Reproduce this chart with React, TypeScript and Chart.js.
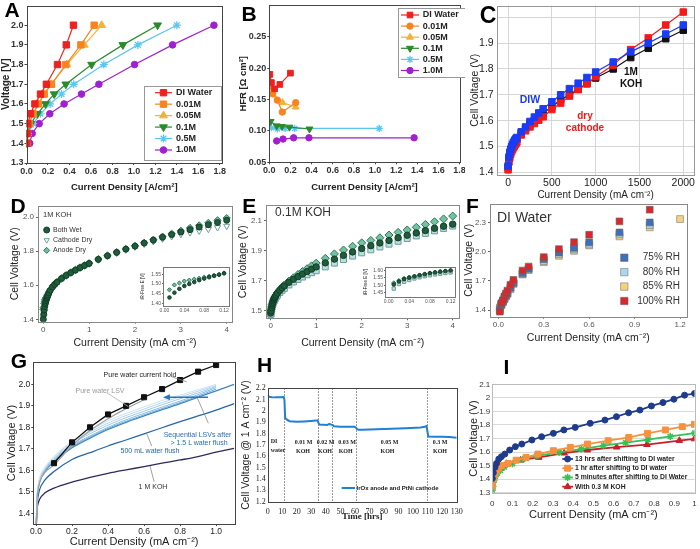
import React, { useEffect, useRef } from 'react';
import { Chart, registerables } from 'chart.js';
import { drawPoint } from 'chart.js/helpers';

Chart.register(...registerables);

const SANS = "'Liberation Sans', Arial, Helvetica, sans-serif";
const SERIF = "'Liberation Serif', 'Times New Roman', serif";

// ---------------- Panel A ----------------
const A_V = [1.4, 1.45, 1.5, 1.55, 1.6, 1.65, 1.7, 1.8, 1.9, 2.0];
const A_DI = [0.002, 0.005, 0.012, 0.037, 0.078, 0.13, 0.185, 0.288, 0.37, 0.437];
const A_001 = [0.003, 0.008, 0.025, 0.062, 0.11, 0.165, 0.233, 0.366, 0.506, 0.63];
const A_005 = [0.003, 0.009, 0.027, 0.06, 0.112, 0.162, 0.228, 0.375, 0.537, 0.7];
const A_01 = [0.004, 0.01, 0.04, 0.102, 0.177, 0.258, 0.366, 0.606, 0.897, 1.22];
const A_05 = [0.006, 0.015, 0.062, 0.13, 0.22, 0.326, 0.44, 0.72, 1.037, 1.4];
const A_1 = [0.03, 0.053, 0.118, 0.217, 0.35, 0.512, 0.674, 1.006, 1.36, 1.745];
const A_XT = [0, 0.2, 0.4, 0.6, 0.8, 1.0, 1.2, 1.4, 1.6, 1.8];
const A_YT = [1.3, 1.4, 1.5, 1.6, 1.7, 1.8, 1.9, 2.0];
const CONC = ['DI Water', '0.01M', '0.05M', '0.1M', '0.5M', '1.0M'];

// ---------------- Panel B ----------------
const B_DI_X = [0.005, 0.02, 0.05, 0.1, 0.2];
const B_DI_Y = [0.19, 0.177, 0.167, 0.174, 0.192];
const B_001_X = [0.008, 0.032, 0.076, 0.123, 0.25];
const B_001_Y = [0.171, 0.159, 0.149, 0.13, 0.145];
const B_005_X = [0.006, 0.03, 0.126, 0.25];
const B_005_Y = [0.169, 0.16, 0.145, 0.138];
const B_01_X = [0.012, 0.07, 0.12, 0.19, 0.38];
const B_01_Y = [0.115, 0.108, 0.107, 0.106, 0.103];
const B_05_X = [0.02, 0.076, 0.15, 0.24, 1.04];
const B_05_Y = [0.105, 0.103, 0.104, 0.104, 0.104];
const B_1_X = [0.07, 0.13, 0.23, 0.375, 1.37];
const B_1_Y = [0.084, 0.087, 0.089, 0.089, 0.089];
const B_YT = [0.05, 0.1, 0.15, 0.2, 0.25];

// ---------------- Panel C ----------------
const C_X = [0, 10, 20, 30, 40, 50, 60, 70, 80, 90, 100, 150, 200, 250, 300, 350, 400, 500, 600, 700, 800, 900, 1000, 1200, 1400, 1600, 1800, 2000];
const C_DIW = [1.425, 1.46, 1.478, 1.49, 1.5, 1.508, 1.515, 1.521, 1.526, 1.531, 1.535, 1.557, 1.576, 1.597, 1.614, 1.63, 1.646, 1.673, 1.7, 1.724, 1.745, 1.767, 1.788, 1.827, 1.866, 1.9, 1.935, 1.97];
const C_DRY = [1.41, 1.44, 1.458, 1.47, 1.48, 1.488, 1.495, 1.501, 1.507, 1.512, 1.517, 1.545, 1.561, 1.576, 1.589, 1.602, 1.615, 1.643, 1.668, 1.695, 1.72, 1.742, 1.77, 1.815, 1.875, 1.92, 1.97, 2.02];
const C_KOH = [1.42, 1.452, 1.47, 1.482, 1.492, 1.5, 1.507, 1.513, 1.518, 1.523, 1.528, 1.552, 1.57, 1.587, 1.602, 1.616, 1.628, 1.655, 1.68, 1.7, 1.722, 1.745, 1.765, 1.8, 1.844, 1.88, 1.917, 1.95];
const C_XT = [0, 500, 1000, 1500, 2000];
const C_YT = [1.4, 1.5, 1.6, 1.7, 1.8, 1.9, 2.0];

// ---------------- Panel D ----------------
const DE_X = [0, 0.01, 0.02, 0.03, 0.04, 0.05, 0.06, 0.07, 0.08, 0.09, 0.1, 0.12, 0.15, 0.2, 0.25, 0.3, 0.4, 0.5, 0.6, 0.7, 0.8, 0.9, 1.0, 1.2, 1.4, 1.6, 1.8, 2.0, 2.2, 2.4, 2.6, 2.8, 3.0, 3.2, 3.4, 3.6, 3.8, 4.0];
const D_WET = [1.4, 1.43, 1.455, 1.475, 1.49, 1.5, 1.51, 1.52, 1.528, 1.535, 1.542, 1.555, 1.57, 1.59, 1.605, 1.618, 1.64, 1.658, 1.674, 1.689, 1.703, 1.716, 1.728, 1.752, 1.773, 1.793, 1.812, 1.83, 1.848, 1.865, 1.882, 1.898, 1.913, 1.927, 1.942, 1.956, 1.969, 1.982];
const D_CATH = [1.41, 1.44, 1.46, 1.478, 1.49, 1.5, 1.508, 1.517, 1.525, 1.533, 1.54, 1.553, 1.568, 1.588, 1.603, 1.616, 1.638, 1.656, 1.672, 1.687, 1.701, 1.714, 1.726, 1.75, 1.771, 1.79, 1.809, 1.826, 1.843, 1.858, 1.873, 1.887, 1.9, 1.91, 1.92, 1.93, 1.94, 1.948];
const D_ANODE = [1.46, 1.47, 1.495, 1.505, 1.515, 1.52, 1.525, 1.53, 1.535, 1.54, 1.545, 1.557, 1.572, 1.592, 1.607, 1.62, 1.642, 1.66, 1.676, 1.691, 1.705, 1.718, 1.73, 1.754, 1.775, 1.795, 1.814, 1.832, 1.85, 1.868, 1.886, 1.903, 1.92, 1.937, 1.952, 1.967, 1.982, 1.995];
const DI_X = [0.01, 0.02, 0.03, 0.04, 0.05, 0.06, 0.07, 0.08, 0.09, 0.1, 0.11, 0.12];
const DI_WET = [1.43, 1.455, 1.475, 1.49, 1.5, 1.51, 1.52, 1.528, 1.535, 1.542, 1.548, 1.555];
const DI_ANODE = [1.47, 1.495, 1.505, 1.515, 1.52, 1.525, 1.53, 1.535, 1.54, 1.545, 1.55, 1.557];
const DE_XT = [0, 1, 2, 3, 4];
const D_YT = [1.4, 1.6, 1.8, 2.0];
const INSET_XT = [0, 0.04, 0.08, 0.12];
const DI_YT = [1.4, 1.45, 1.5, 1.55];
const WET_LABELS = ['Both Wet', 'Cathode Dry', 'Anode Dry'];

// ---------------- Panel E ----------------
const E_WET = [1.485, 1.5, 1.52, 1.535, 1.547, 1.557, 1.566, 1.574, 1.581, 1.588, 1.594, 1.605, 1.618, 1.636, 1.652, 1.666, 1.69, 1.71, 1.728, 1.745, 1.762, 1.778, 1.793, 1.82, 1.845, 1.87, 1.893, 1.916, 1.935, 1.953, 1.97, 1.988, 2.005, 2.02, 2.036, 2.051, 2.065, 2.079];
const E_CATH = [1.475, 1.48, 1.51, 1.525, 1.537, 1.547, 1.556, 1.563, 1.57, 1.576, 1.581, 1.591, 1.604, 1.621, 1.636, 1.649, 1.672, 1.692, 1.709, 1.725, 1.74, 1.754, 1.767, 1.793, 1.818, 1.842, 1.865, 1.887, 1.907, 1.926, 1.945, 1.964, 1.983, 2.0, 2.017, 2.034, 2.05, 2.066];
const E_ANODE = [1.495, 1.51, 1.525, 1.54, 1.55, 1.559, 1.567, 1.575, 1.582, 1.588, 1.594, 1.604, 1.62, 1.64, 1.657, 1.672, 1.698, 1.72, 1.742, 1.762, 1.781, 1.8, 1.818, 1.85, 1.88, 1.906, 1.931, 1.954, 1.97, 1.988, 2.006, 2.024, 2.04, 2.058, 2.077, 2.095, 2.114, 2.133];
const EI_WET = [1.505, 1.525, 1.54, 1.55, 1.558, 1.566, 1.573, 1.58, 1.585, 1.59, 1.594, 1.598];
const EI_CATH = [1.478, 1.508, 1.523, 1.535, 1.545, 1.553, 1.56, 1.566, 1.572, 1.577, 1.581, 1.585];
const EI_ANODE = [1.515, 1.53, 1.545, 1.553, 1.56, 1.567, 1.574, 1.58, 1.585, 1.589, 1.593, 1.597];
const E_YT = [1.5, 1.7, 1.9, 2.1];
const EI_YT = [1.45, 1.5, 1.55, 1.6];

// ---------------- Panel F ----------------
const F_X = [0.01, 0.02, 0.03, 0.04, 0.05, 0.06, 0.08, 0.1, 0.16, 0.2, 0.3, 0.4, 0.5, 0.6, 0.8, 1.0];
const F_X85 = [0.01, 0.02, 0.03, 0.04, 0.05, 0.06, 0.08, 0.1, 0.16, 0.2, 0.3, 0.4, 0.5, 0.6, 0.8, 1.0, 1.2];
const F_75 = [1.4, 1.46, 1.49, 1.52, 1.55, 1.575, 1.63, 1.68, 1.78, 1.825, 1.924, 1.993, 2.041, 2.097, 2.2, 2.303];
const F_80 = [1.41, 1.455, 1.485, 1.515, 1.545, 1.57, 1.625, 1.675, 1.77, 1.815, 1.905, 1.975, 2.025, 2.075, 2.18, 2.276];
const F_85 = [1.427, 1.45, 1.48, 1.51, 1.54, 1.565, 1.615, 1.669, 1.766, 1.814, 1.893, 1.959, 2.01, 2.066, 2.159, 2.252, 2.338];
const F_100 = [1.383, 1.47, 1.5, 1.54, 1.57, 1.6, 1.66, 1.71, 1.807, 1.848, 1.945, 2.028, 2.1, 2.176, 2.314, 2.434];
const F_XT = [0, 0.3, 0.6, 0.9, 1.2];
const F_YT = [1.4, 1.7, 2.0, 2.3];
const RH_LABELS = ['75% RH', '80% RH', '85% RH', '100% RH'];

// ---------------- Panel G ----------------
const G_X = [0.002, 0.005, 0.01, 0.02, 0.05, 0.1, 0.2, 0.3, 0.4, 0.5, 0.6, 0.7, 0.8, 0.9, 1.0, 1.1];
const G_XS = [0.002, 0.005, 0.01, 0.02, 0.05, 0.1, 0.2, 0.3, 0.4, 0.5, 0.6, 0.7, 0.8, 0.9, 1.0];
const G_KOH = [1.35, 1.41, 1.44, 1.465, 1.495, 1.517, 1.545, 1.567, 1.586, 1.602, 1.617, 1.633, 1.648, 1.664, 1.684, 1.702];
const G_500 = [1.35, 1.43, 1.47, 1.51, 1.555, 1.594, 1.65, 1.682, 1.713, 1.741, 1.77, 1.798, 1.826, 1.853, 1.88, 1.91];
const G_SEQ0 = [1.35, 1.45, 1.5, 1.545, 1.595, 1.64, 1.705, 1.75, 1.79, 1.823, 1.853, 1.882, 1.91, 1.94, 1.97, 2.0];
const G_SEQ1 = [1.35, 1.47, 1.52, 1.565, 1.615, 1.665, 1.735, 1.785, 1.83, 1.865, 1.895, 1.925, 1.95, 1.975, 2.0];
const G_SEQ2 = [1.35, 1.465, 1.515, 1.56, 1.61, 1.66, 1.73, 1.778, 1.82, 1.855, 1.885, 1.915, 1.942, 1.968, 1.995];
const G_SEQ3 = [1.35, 1.46, 1.51, 1.555, 1.605, 1.655, 1.722, 1.77, 1.81, 1.845, 1.875, 1.905, 1.933, 1.96, 1.99];
const G_SEQ4 = [1.35, 1.455, 1.505, 1.55, 1.6, 1.65, 1.715, 1.76, 1.8, 1.835, 1.865, 1.894, 1.922, 1.952, 1.985];
const G_SEQ5 = [1.35, 1.45, 1.5, 1.545, 1.597, 1.645, 1.71, 1.755, 1.795, 1.828, 1.858, 1.887, 1.915, 1.945, 1.978];
const G_LSV_X = [0.002, 0.005, 0.01, 0.02, 0.05, 0.1, 0.2, 0.3, 0.4, 0.5, 0.6];
const G_LSV = [1.35, 1.45, 1.5, 1.545, 1.59, 1.625, 1.715, 1.785, 1.84, 1.887, 1.928];
const G_HOLD_X = [0.1, 0.2, 0.3, 0.4, 0.5, 0.6, 0.7, 0.8, 0.9, 1.0];
const G_HOLD = [1.633, 1.73, 1.8, 1.86, 1.9, 1.94, 1.978, 2.02, 2.059, 2.09];
const G_XT = [0, 0.2, 0.4, 0.6, 0.8, 1.0];
const G_YT = [1.4, 1.5, 1.6, 1.7, 1.8, 1.9, 2.0];
const G_ARROW = [0.955, 1.94, 0.705, 1.94];
const G_LEADERS = [
  [0.754, 2.035, 0.837, 2.012],
  [0.393, 1.961, 0.513, 1.896],
  [0.957, 1.819, 0.893, 1.942],
  [0.643, 1.713, 0.615, 1.769],
  [0.656, 1.547, 0.633, 1.62],
];

// ---------------- Panel H ----------------
const H_T = [0, 1, 3, 5, 8, 11, 11.5, 12, 13, 15, 20, 25, 30, 33, 34.3, 34.8, 35.5, 38, 41, 42, 43, 44, 44.8, 45.5, 50, 55, 59.8, 60.5, 61.5, 62.5, 65, 75, 85, 95, 105, 108, 109.2, 109.7, 110.5, 115, 120, 125, 130];
const H_V = [2.14, 2.125, 2.122, 2.12, 2.12, 2.122, 2.1, 1.94, 1.925, 1.91, 1.905, 1.908, 1.912, 1.915, 1.918, 1.9, 1.88, 1.878, 1.876, 1.885, 1.884, 1.878, 1.875, 1.865, 1.862, 1.86, 1.86, 1.855, 1.84, 1.835, 1.835, 1.838, 1.843, 1.848, 1.855, 1.86, 1.868, 1.83, 1.775, 1.773, 1.772, 1.77, 1.765];
const H_SWITCH = [11.5, 34.5, 44.5, 60.5, 109.5];
const H_XT = [0, 10, 20, 30, 40, 50, 60, 70, 80, 90, 100, 110, 120, 130];
const H_YT = [1.2, 1.3, 1.4, 1.5, 1.6, 1.7, 1.8, 1.9, 2.0, 2.1, 2.2];

// ---------------- Panel I ----------------
const I_13_X = [0, 0.005, 0.013, 0.021, 0.032, 0.045, 0.062, 0.086, 0.114, 0.146, 0.196, 0.244, 0.302, 0.354, 0.41, 0.484, 0.557, 0.614, 0.674, 0.73, 0.787, 0.844, 0.898, 0.951, 1.0];
const I_13_Y = [1.405, 1.447, 1.487, 1.516, 1.548, 1.566, 1.585, 1.615, 1.64, 1.659, 1.689, 1.713, 1.738, 1.763, 1.782, 1.812, 1.836, 1.861, 1.89, 1.91, 1.94, 1.965, 1.99, 2.02, 2.032];
const I_1_X = [0, 0.005, 0.01, 0.02, 0.03, 0.045, 0.078, 0.118, 0.167, 0.226, 0.302, 0.386, 0.471, 0.573, 0.675, 0.768, 0.856, 0.94, 1.0];
const I_1_Y = [1.35, 1.4, 1.43, 1.46, 1.48, 1.5, 1.515, 1.54, 1.56, 1.585, 1.61, 1.634, 1.659, 1.684, 1.708, 1.738, 1.763, 1.787, 1.805];
const I_5_X = [0, 0.003, 0.008, 0.015, 0.025, 0.04, 0.06, 0.1, 0.15, 0.22, 0.33, 0.44, 0.55, 0.66, 0.77, 0.88, 1.0];
const I_5_Y = [1.32, 1.345, 1.39, 1.42, 1.445, 1.465, 1.49, 1.515, 1.545, 1.572, 1.598, 1.622, 1.648, 1.67, 1.692, 1.715, 1.74];
const I_K_X = [0, 0.003, 0.008, 0.015, 0.025, 0.04, 0.07, 0.14, 0.23, 0.355, 0.47, 0.615, 0.765, 0.925, 1.0];
const I_K_Y = [1.37, 1.39, 1.42, 1.445, 1.465, 1.485, 1.515, 1.54, 1.56, 1.592, 1.615, 1.636, 1.655, 1.685, 1.697];
const I_XT = [0, 0.1, 0.2, 0.3, 0.4, 0.5, 0.6, 0.7, 0.8, 0.9, 1.0];
const I_YT = [1.3, 1.4, 1.5, 1.6, 1.7, 1.8, 1.9, 2.0, 2.1];
const I_LABELS = ['13 hrs after shifting to DI water', '1 hr after shifting to DI water', '5 minutes after shifting to DI Water', 'With 0.3 M KOH'];

// ---------------- helpers ----------------
type Box = { left: number; top: number; w: number; h: number };
type Area = { l: number; t: number; r: number; b: number };

const F = (size: number, weight: string = 'normal', family: string = SANS) => ({ size, weight, family, lineHeight: 1.2 });
const f0 = (v: number) => String(v);
const f1 = (v: number) => v.toFixed(1);
const f2 = (v: number) => v.toFixed(2);
const fg = (v: number) => String(Math.round(v * 10) / 10);

function ax(o: any) {
  const horiz = o.pos === 'bottom';
  return {
    type: 'linear',
    position: o.pos,
    min: o.min,
    max: o.max,
    afterBuildTicks: (s: any) => {
      s.ticks = o.ticks.map((v: number) => ({ value: v }));
    },
    afterFit: (s: any) => {
      if (horiz) s.height = o.size;
      else s.width = o.size;
      s.paddingLeft = 0;
      s.paddingRight = 0;
      s.paddingTop = 0;
      s.paddingBottom = 0;
    },
    ticks: {
      font: o.font,
      color: o.color || '#222',
      padding: o.pad ?? 2,
      autoSkip: false,
      maxRotation: 0,
      minRotation: 0,
      callback: (v: any) => o.fmt(Number(v)),
    },
    grid: {
      drawOnChartArea: !!o.grid,
      color: o.grid || 'rgba(0,0,0,0)',
      drawTicks: !!o.tl,
      tickLength: o.tl || 0,
      tickColor: o.tc || '#444',
      lineWidth: 1,
    },
    border: { display: false },
    title: o.title
      ? { display: true, text: o.title, font: o.tf, color: o.tcol || '#222', padding: { top: o.tp || 0, bottom: o.tp || 0 } }
      : { display: false },
  };
}

function ser(label: string, xs: number[], ys: number[], st: any) {
  return {
    label,
    data: xs.map((x, i) => ({ x, y: ys[i] })),
    borderColor: st.c,
    borderWidth: st.lw ?? 1.2,
    showLine: st.line ?? true,
    pointStyle: st.ps ?? 'circle',
    pointRadius: st.r ?? 3,
    pointRotation: st.rot ?? 0,
    pointBackgroundColor: st.f ?? st.c,
    pointBorderColor: st.b ?? st.c,
    pointBorderWidth: st.bw ?? 1,
    tension: 0,
    cubicInterpolationMode: st.mono ? 'monotone' : 'default',
    fill: false,
    order: st.order ?? 0,
    noLegend: !!st.noLegend,
  };
}

function frameP(color: string, width = 1) {
  return {
    id: 'frame',
    afterDatasetsDraw(chart: any) {
      const { left, top, right, bottom } = chart.chartArea;
      const ctx = chart.ctx as CanvasRenderingContext2D;
      ctx.save();
      ctx.strokeStyle = color;
      ctx.lineWidth = width;
      ctx.setLineDash([]);
      const l = Math.round(left) + 0.5;
      const t = Math.round(top) + 0.5;
      ctx.strokeRect(l, t, Math.round(right) - Math.round(left), Math.round(bottom) - Math.round(top));
      ctx.restore();
    },
  };
}

function legendP(box: Box, o: any) {
  return {
    id: 'boxLegend',
    afterDatasetsDraw(chart: any) {
      const ctx = chart.ctx as CanvasRenderingContext2D;
      const ox = box.left;
      const oy = box.top;
      ctx.save();
      if (o.box) {
        const [l, t, r, b] = o.box;
        ctx.fillStyle = '#fff';
        ctx.fillRect(l - ox, t - oy, r - l, b - t);
        ctx.strokeStyle = o.boxColor || '#888';
        ctx.lineWidth = 1;
        ctx.strokeRect(Math.round(l - ox) + 0.5, Math.round(t - oy) + 0.5, Math.round(r - l), Math.round(b - t));
      }
      const sets = chart.data.datasets.filter((d: any) => !d.noLegend);
      sets.forEach((d: any, i: number) => {
        const y = o.y0 + i * (o.dy || 0) - oy;
        if (o.line) {
          ctx.strokeStyle = d.borderColor;
          ctx.lineWidth = d.borderWidth;
          ctx.beginPath();
          ctx.moveTo(o.line[0] - ox, y);
          ctx.lineTo(o.line[1] - ox, y);
          ctx.stroke();
        }
        if (o.markerX != null && d.pointRadius > 0) {
          ctx.fillStyle = d.pointBackgroundColor;
          ctx.strokeStyle = d.pointBorderColor;
          ctx.lineWidth = d.pointBorderWidth;
          drawPoint(ctx, { pointStyle: d.pointStyle, rotation: d.pointRotation || 0, radius: o.r ?? d.pointRadius, borderWidth: d.pointBorderWidth } as any, o.markerX - ox, y);
        }
        ctx.fillStyle = o.color || '#222';
        ctx.font = o.font;
        ctx.textAlign = o.align || 'left';
        ctx.textBaseline = 'middle';
        ctx.fillText(d.label, o.textX - ox, y);
      });
      ctx.restore();
    },
  };
}

function mk(box: Box, area: Area, xo: any, yo: any, datasets: any[], plugins: any[]) {
  return {
    type: 'line',
    data: { datasets },
    plugins,
    options: {
      responsive: false,
      maintainAspectRatio: false,
      animation: false,
      devicePixelRatio: 1,
      events: [],
      layout: { padding: { left: 0, top: area.t - box.top, right: box.left + box.w - area.r, bottom: 0 } },
      plugins: { legend: { display: false }, tooltip: { enabled: false }, title: { display: false } },
      scales: {
        x: ax({ ...xo, pos: 'bottom', size: box.top + box.h - area.b }),
        y: ax({ ...yo, pos: 'left', size: area.l - box.left }),
      },
    },
  };
}

function ChartPanel({ box, make }: { box: Box; make: () => any }) {
  const ref = useRef<HTMLCanvasElement | null>(null);
  useEffect(() => {
    const chart = new Chart(ref.current as HTMLCanvasElement, make());
    return () => chart.destroy();
  }, []);
  return (
    <canvas
      ref={ref}
      width={box.w}
      height={box.h}
      style={{ position: 'absolute', left: box.left, top: box.top, width: box.w, height: box.h }}
    />
  );
}

function Txt({ x, y, size, weight = 'normal', color = '#222', family = SANS, align = 'c', children }: any) {
  const tx = align === 'c' ? '-50%' : align === 'r' ? '-100%' : '0';
  return (
    <div
      style={{
        position: 'absolute',
        left: x,
        top: y,
        transform: `translate(${tx},-50%)`,
        fontFamily: family,
        fontSize: size,
        fontWeight: weight as any,
        color,
        lineHeight: 1,
        whiteSpace: 'nowrap',
      }}
    >
      {children}
    </div>
  );
}

// ---------------- panel configs ----------------
const CC = { di: '#ee2020', c001: '#f7841e', c005: '#f2b23a', c01: '#2b8a2b', c05: '#5cc6f2', c1: '#a020d0' };

const boxA: Box = { left: 0, top: 0, w: 230, h: 197 };
function makeA() {
  const area = { l: 26.5, t: 4, r: 222, b: 163 };
  const ds = [
    ser(CONC[0], A_DI, A_V, { c: CC.di, ps: 'rect', r: 4.5 }),
    ser(CONC[1], A_001, A_V, { c: CC.c001, ps: 'rect', r: 4.5 }),
    ser(CONC[2], A_005, A_V, { c: CC.c005, ps: 'triangle', r: 4.5 }),
    ser(CONC[3], A_01, A_V, { c: CC.c01, ps: 'triangle', rot: 180, r: 4.5 }),
    ser(CONC[4], A_05, A_V, { c: CC.c05, ps: 'star', r: 4, bw: 1.3 }),
    ser(CONC[5], A_1, A_V, { c: CC.c1, ps: 'circle', r: 3.3 }),
  ];
  return mk(
    boxA,
    area,
    { min: 0, max: 1.82, ticks: A_XT, fmt: f1, font: F(9, 'bold'), color: '#333', tl: 2, pad: 1, title: 'Current Density [A/cm²]', tf: F(9.5, 'bold'), tp: 4 },
    { min: 1.3, max: 2.1, ticks: A_YT, fmt: f1, font: F(9, 'bold'), color: '#333', tl: 2, pad: 1, title: 'Voltage [V]', tf: F(10, 'bold'), tp: 0 },
    ds,
    [frameP('#444'), legendP(boxA, { box: [144, 86, 221, 160], boxColor: '#999', line: [155, 172], markerX: 163.5, textX: 176, y0: 92.7, dy: 11.46, font: `bold 9px ${SANS}`, color: '#222' })]
  );
}

const boxB: Box = { left: 230, top: 0, w: 235, h: 197 };
function makeB() {
  const area = { l: 269.3, t: 5, r: 459.6, b: 162.3 };
  const ds = [
    ser(CONC[0], B_DI_X, B_DI_Y, { c: CC.di, ps: 'rect', r: 4 }),
    ser(CONC[1], B_001_X, B_001_Y, { c: CC.c001, ps: 'circle', r: 3.2 }),
    ser(CONC[2], B_005_X, B_005_Y, { c: CC.c005, ps: 'triangle', r: 4 }),
    ser(CONC[3], B_01_X, B_01_Y, { c: CC.c01, ps: 'triangle', rot: 180, r: 4 }),
    ser(CONC[4], B_05_X, B_05_Y, { c: CC.c05, ps: 'star', r: 3.6, bw: 1.3 }),
    ser(CONC[5], B_1_X, B_1_Y, { c: CC.c1, ps: 'circle', r: 3.2 }),
  ];
  return mk(
    boxB,
    area,
    { min: 0, max: 1.8, ticks: A_XT, fmt: f1, font: F(9, 'bold'), color: '#333', tl: 2, pad: 1, title: 'Current Density [A/cm²]', tf: F(9.5, 'bold'), tp: 4 },
    { min: 0.05, max: 0.3, ticks: B_YT, fmt: f2, font: F(9, 'bold'), color: '#333', tl: 2, pad: 1, title: 'HFR [Ω cm²]', tf: F(9.5, 'bold'), tp: 8 },
    ds,
    [frameP('#444'), legendP(boxB, { box: [398, 8, 472, 77], boxColor: '#999', line: [401, 419], markerX: 410, textX: 422.7, y0: 15, dy: 11.1, font: `bold 9px ${SANS}`, color: '#222' })]
  );
}

const boxC: Box = { left: 465, top: 0, w: 235, h: 202 };
function makeC() {
  const area = { l: 496.7, t: 3, r: 698, b: 175 };
  const ds = [
    ser('DIW', C_X, C_DIW, { c: '#1a3cf5', ps: 'rect', r: 4.6, lw: 1.2 }),
    ser('dry cathode', C_X, C_DRY, { c: '#f51a1a', ps: 'rect', r: 4.6, lw: 1.2 }),
    ser('1M KOH', C_X, C_KOH, { c: '#111111', ps: 'rect', r: 4.6, lw: 1.2 }),
  ];
  return mk(
    boxC,
    area,
    { min: -130, max: 2127, ticks: C_XT, fmt: f0, font: F(10.5), color: '#222', pad: 2, grid: '#d6d6d6', title: 'Current Density (mA cm⁻²)', tf: F(10), tp: 1 },
    { min: 1.39, max: 2.045, ticks: C_YT, fmt: (v: number) => (v > 1.95 ? '' : f1(v)), font: F(10.5), color: '#222', pad: 3, grid: '#d6d6d6', title: 'Cell Voltage (V)', tf: F(10.5), tp: 3.7 },
    ds,
    [frameP('#999')]
  );
}

const D_STY = {
  wet: { ps: 'circle', r: 3, c: '#1e5c3a', f: '#1e5c3a', b: '#123d26', line: false },
  cath: { ps: 'triangle', rot: 180, r: 3.6, c: '#6f9f9c', f: 'rgba(0,0,0,0)', b: '#6f9f9c', line: false },
  anode: { ps: 'rectRot', r: 3.6, c: '#6cc19f', f: '#6cc19f', b: '#2f7458', line: false },
};

const boxD: Box = { left: 0, top: 195, w: 237, h: 160 };
function makeD() {
  const area = { l: 38, t: 206, r: 232, b: 321.7 };
  const ds = [
    ser(WET_LABELS[0], DE_X, D_WET, D_STY.wet),
    ser(WET_LABELS[1], DE_X, D_CATH, D_STY.cath),
    ser(WET_LABELS[2], DE_X, D_ANODE, D_STY.anode),
  ];
  return mk(
    boxD,
    area,
    { min: -0.116, max: 4.116, ticks: DE_XT, fmt: f0, font: F(8), color: '#555', tl: 2, tc: '#666', pad: 1, title: 'Current Density (mA cm⁻²)', tf: F(10.5), tp: 5.7 },
    { min: 1.386, max: 2.066, ticks: D_YT, fmt: f1, font: F(8), color: '#555', tl: 2, tc: '#666', pad: 2, title: 'Cell Voltage (V)', tf: F(10.5), tp: 8.7 },
    ds,
    [frameP('#888'), legendP(boxD, { markerX: 46.7, textX: 53, y0: 230, dy: 10.2, r: 3, font: `7px ${SANS}`, color: '#333' })]
  );
}

const boxDI: Box = { left: 130, top: 262, w: 104, h: 56 };
function makeDI() {
  const area = { l: 163, t: 267, r: 230, b: 306 };
  const ds = [
    ser(WET_LABELS[0], DI_X, DI_WET, { ...D_STY.wet, r: 1.8 }),
    ser(WET_LABELS[2], DI_X, DI_ANODE, { ...D_STY.anode, r: 2.1 }),
  ];
  return mk(
    boxDI,
    area,
    { min: -0.003, max: 0.13, ticks: INSET_XT, fmt: f2, font: F(5), color: '#555', tl: 1, tc: '#666', pad: 0.5 },
    { min: 1.386, max: 1.588, ticks: DI_YT, fmt: f2, font: F(5), color: '#555', tl: 1, tc: '#666', pad: 1, title: 'iR-Free E [V]', tf: F(4.5), tp: 10 },
    ds,
    [frameP('#777')]
  );
}

const E_STY = {
  wet: { ps: 'circle', r: 3.2, c: '#1e5c3a', f: '#1e5c3a', b: '#123d26', line: false },
  cath: { ps: 'rect', r: 4.2, c: '#6c9c9c', f: '#b9dfdf', b: '#6c9c9c', line: false },
  anode: { ps: 'rectRot', r: 4, c: '#70c4a2', f: '#70c4a2', b: '#2f7458', line: false },
};

const boxE: Box = { left: 230, top: 195, w: 235, h: 160 };
function makeE() {
  const area = { l: 266, t: 205, r: 459.3, b: 318.3 };
  const ds = [
    ser(WET_LABELS[0], DE_X, E_WET, E_STY.wet),
    ser(WET_LABELS[1], DE_X, E_CATH, E_STY.cath),
    ser(WET_LABELS[2], DE_X, E_ANODE, E_STY.anode),
  ];
  return mk(
    boxE,
    area,
    { min: -0.103, max: 4.145, ticks: DE_XT, fmt: f0, font: F(8), color: '#555', tl: 2, tc: '#666', pad: 1, title: 'Current Density (mA cm⁻²)', tf: F(10.5), tp: 5.4 },
    { min: 1.449, max: 2.207, ticks: E_YT, fmt: f1, font: F(8), color: '#555', tl: 2, tc: '#666', pad: 2, title: 'Cell Voltage (V)', tf: F(10.5), tp: 6.7 },
    ds,
    [frameP('#888')]
  );
}

const boxEI: Box = { left: 355, top: 262, w: 105, h: 50 };
function makeEI() {
  const area = { l: 385, t: 266, r: 456, b: 297 };
  const ds = [
    ser(WET_LABELS[0], DI_X, EI_WET, { ...E_STY.wet, r: 1.8 }),
    ser(WET_LABELS[1], DI_X, EI_CATH, { ...E_STY.cath, r: 2.4 }),
    ser(WET_LABELS[2], DI_X, EI_ANODE, { ...E_STY.anode, r: 2.2 }),
  ];
  return mk(
    boxEI,
    area,
    { min: -0.007, max: 0.1286, ticks: INSET_XT, fmt: f2, font: F(5), color: '#555', tl: 1, tc: '#666', pad: 0.5 },
    { min: 1.422, max: 1.621, ticks: EI_YT, fmt: f2, font: F(5), color: '#555', tl: 1, tc: '#666', pad: 1, title: 'iR-Free E [V]', tf: F(4.5), tp: 8 },
    ds,
    [frameP('#777')]
  );
}

const boxF: Box = { left: 460, top: 195, w: 240, h: 155 };
function makeF() {
  const area = { l: 490, t: 204, r: 686.7, b: 316.7 };
  const ds = [
    ser(RH_LABELS[0], F_X, F_75, { ps: 'rect', r: 4.8, c: '#3f6fb8', f: '#3f6fb8', b: '#666', bw: 0.6, line: false, order: 1 }),
    ser(RH_LABELS[1], F_X, F_80, { ps: 'rect', r: 4.8, c: '#a9d7ee', f: '#a9d7ee', b: '#777', bw: 0.6, line: false, order: 2 }),
    ser(RH_LABELS[2], F_X85, F_85, { ps: 'rect', r: 4.8, c: '#f6d27c', f: '#f6d27c', b: '#777', bw: 0.6, line: false, order: 3 }),
    ser(RH_LABELS[3], F_X, F_100, { ps: 'rect', r: 4.8, c: '#d8282b', f: '#d8282b', b: '#666', bw: 0.6, line: false, order: 0 }),
  ];
  return mk(
    boxF,
    area,
    { min: -0.055, max: 1.244, ticks: F_XT, fmt: f1, font: F(8), color: '#555', tl: 2, tc: '#666', pad: 1, title: 'Current Density (mA cm⁻²)', tf: F(10.5), tp: 5.7 },
    { min: 1.331, max: 2.493, ticks: F_YT, fmt: f1, font: F(8), color: '#555', tl: 2, tc: '#666', pad: 2, title: 'Cell Voltage (V)', tf: F(10.5), tp: 2.7 },
    ds,
    [frameP('#888'), legendP(boxF, { markerX: 624.3, textX: 680, align: 'right', y0: 257.7, dy: 14.43, r: 5.2, font: `10px ${SANS}`, color: '#333' })]
  );
}

const boxG: Box = { left: 0, top: 355, w: 240, h: 194 };
function makeG() {
  const area = { l: 33.3, t: 362, r: 235, b: 524 };
  const line = (label: string, xs: number[], ys: number[], c: string, lw = 1.2) =>
    ser(label, xs, ys, { c, lw, r: 0, mono: true, noLegend: true });
  const ds = [
    ser('Pure water current hold', G_HOLD_X, G_HOLD, { c: '#111', ps: 'rect', r: 3.6, lw: 1.3, noLegend: true }),
    line('Pure water LSV', G_LSV_X, G_LSV, '#a0a0a0', 1.2),
    line('Sequential LSV 1', G_XS, G_SEQ1, '#cde3f3', 1),
    line('Sequential LSV 2', G_XS, G_SEQ2, '#b6d6ee', 1),
    line('Sequential LSV 3', G_XS, G_SEQ3, '#9ec9e8', 1),
    line('Sequential LSV 4', G_XS, G_SEQ4, '#86bbe1', 1),
    line('Sequential LSV 5', G_XS, G_SEQ5, '#6eacd9', 1),
    line('Sequential LSV 6', G_X, G_SEQ0, '#3f86c6', 1.3),
    line('500 mL water flush', G_X, G_500, '#2767a8', 1.3),
    line('1 M KOH', G_X, G_KOH, '#2d2a5e', 1.3),
  ];
  const annot = {
    id: 'gAnnot',
    afterDatasetsDraw(chart: any) {
      const ctx = chart.ctx as CanvasRenderingContext2D;
      const xs = chart.scales.x;
      const ys = chart.scales.y;
      ctx.save();
      ctx.lineWidth = 0.8;
      G_LEADERS.forEach((L, i) => {
        ctx.strokeStyle = i === 1 ? '#b0b0b0' : '#8a8a8a';
        ctx.beginPath();
        ctx.moveTo(xs.getPixelForValue(L[0]), ys.getPixelForValue(L[1]));
        ctx.lineTo(xs.getPixelForValue(L[2]), ys.getPixelForValue(L[3]));
        ctx.stroke();
      });
      const x1 = xs.getPixelForValue(G_ARROW[0]);
      const y1 = ys.getPixelForValue(G_ARROW[1]);
      const x2 = xs.getPixelForValue(G_ARROW[2]);
      const y2 = ys.getPixelForValue(G_ARROW[3]);
      ctx.strokeStyle = '#2a75c0';
      ctx.fillStyle = '#2a75c0';
      ctx.lineWidth = 1.5;
      ctx.beginPath();
      ctx.moveTo(x1, y1);
      ctx.lineTo(x2 + 5, y2);
      ctx.stroke();
      ctx.beginPath();
      ctx.moveTo(x2, y2);
      ctx.lineTo(x2 + 7, y2 - 3);
      ctx.lineTo(x2 + 7, y2 + 3);
      ctx.closePath();
      ctx.fill();
      ctx.restore();
    },
  };
  return mk(
    boxG,
    area,
    { min: -0.015, max: 1.105, ticks: G_XT, fmt: f1, font: F(8.5), color: '#222', tl: 2, pad: 1, title: 'Current Density (mA cm⁻²)', tf: F(11), tp: 0 },
    { min: 1.35, max: 2.104, ticks: G_YT, fmt: f1, font: F(8.5), color: '#222', tl: 2, pad: 1, title: 'Cell Voltage (V)', tf: F(11), tp: 5.4 },
    ds,
    [frameP('#444'), annot]
  );
}

const boxH: Box = { left: 236, top: 360, w: 228, h: 165 };
function makeH() {
  const area = { l: 267.7, t: 388.3, r: 456.7, b: 501.7 };
  const ds = [ser('IrOx anode and PtNi cathode', H_T, H_V, { c: '#1f80d6', lw: 2, r: 0 })];
  const vlines = {
    id: 'hSwitch',
    beforeDatasetsDraw(chart: any) {
      const ctx = chart.ctx as CanvasRenderingContext2D;
      const xs = chart.scales.x;
      const { top, bottom } = chart.chartArea;
      ctx.save();
      ctx.strokeStyle = '#555';
      ctx.lineWidth = 0.8;
      ctx.setLineDash([1.5, 1.5]);
      H_SWITCH.forEach((t) => {
        const x = Math.round(xs.getPixelForValue(t)) + 0.5;
        ctx.beginPath();
        ctx.moveTo(x, top);
        ctx.lineTo(x, bottom);
        ctx.stroke();
      });
      ctx.restore();
    },
  };
  return mk(
    boxH,
    area,
    { min: 0, max: 130, ticks: H_XT, fmt: f0, font: F(8, 'normal', SERIF), color: '#222', pad: 5, title: 'Time [hrs]', tf: F(9, 'bold', SERIF), tp: 2.6 },
    { min: 1.2, max: 2.2, ticks: H_YT, fmt: fg, font: F(8, 'normal', SERIF), color: '#222', pad: 2, title: 'Cell Voltage @ 1 A cm⁻² (V)', tf: F(10.5), tp: 3.7 },
    ds,
    [vlines, frameP('#444'), legendP(boxH, { line: [341.7, 355], textX: 356.5, y0: 488, dy: 0, font: `bold 6px ${SANS}`, color: '#222' })]
  );
}

const boxI: Box = { left: 465, top: 375, w: 235, h: 150 };
function makeI() {
  const area = { l: 492.3, t: 384.3, r: 698, b: 492.7 };
  const ds = [
    ser(I_LABELS[0], I_13_X, I_13_Y, { c: '#1f3b8c', ps: 'circle', r: 3, lw: 1.8 }),
    ser(I_LABELS[1], I_1_X, I_1_Y, { c: '#f7913f', ps: 'rect', r: 4.2, lw: 1.8 }),
    ser(I_LABELS[2], I_5_X, I_5_Y, { c: '#33c255', ps: 'star', r: 3.6, bw: 1.5, lw: 1.8 }),
    ser(I_LABELS[3], I_K_X, I_K_Y, { c: '#c8202a', ps: 'triangle', r: 3.8, lw: 1.8 }),
  ];
  return mk(
    boxI,
    area,
    { min: 0, max: 1, ticks: I_XT, fmt: fg, font: F(8), color: '#333', pad: 6, title: 'Current Density (mA cm⁻²)', tf: F(11), tp: 3.4 },
    { min: 1.3, max: 2.1, ticks: I_YT, fmt: fg, font: F(8), color: '#333', pad: 2, grid: '#d9d9d9', title: 'Cell Voltage (V)', tf: F(11), tp: 2.4 },
    ds,
    [frameP('#bbbbbb'), legendP(boxI, { line: [562.3, 573], markerX: 567.6, textX: 575, y0: 459, dy: 9.23, font: `bold 6.8px ${SANS}`, color: '#222' })]
  );
}

export default function App() {
  return (
    <div style={{ position: 'absolute', left: 0, top: 0, width: 700, height: 549, background: '#fff', overflow: 'hidden' }}>
      <ChartPanel box={boxA} make={makeA} />
      <ChartPanel box={boxB} make={makeB} />
      <ChartPanel box={boxC} make={makeC} />
      <ChartPanel box={boxD} make={makeD} />
      <ChartPanel box={boxDI} make={makeDI} />
      <ChartPanel box={boxE} make={makeE} />
      <ChartPanel box={boxEI} make={makeEI} />
      <ChartPanel box={boxF} make={makeF} />
      <ChartPanel box={boxG} make={makeG} />
      <ChartPanel box={boxH} make={makeH} />
      <ChartPanel box={boxI} make={makeI} />

      {/* panel letters */}
      <Txt x={12} y={9} size={21} weight="bold" color="#000">A</Txt>
      <Txt x={249} y={12.5} size={21} weight="bold" color="#000">B</Txt>
      <Txt x={488} y={15} size={23} weight="bold" color="#000">C</Txt>
      <Txt x={18} y={204.5} size={21} weight="bold" color="#000">D</Txt>
      <Txt x={249.3} y={204.5} size={21} weight="bold" color="#000">E</Txt>
      <Txt x={472.5} y={204.5} size={21} weight="bold" color="#000">F</Txt>
      <Txt x={19} y={359.5} size={21} weight="bold" color="#000">G</Txt>
      <Txt x={264.5} y={364} size={21} weight="bold" color="#000">H</Txt>
      <Txt x={506.5} y={365.5} size={21} weight="bold" color="#000">I</Txt>

      {/* C annotations */}
      <Txt x={530} y={98.5} size={10.5} weight="bold" color="#1a3cf0">DIW</Txt>
      <Txt x={585} y={116} size={10} weight="bold" color="#f01a1a">dry</Txt>
      <Txt x={585} y={127.5} size={10} weight="bold" color="#f01a1a">cathode</Txt>
      <Txt x={631} y={72} size={10} weight="bold" color="#111">1M</Txt>
      <Txt x={631} y={83.5} size={10} weight="bold" color="#111">KOH</Txt>

      {/* D / E / F annotations */}
      <Txt x={43} y={215} size={7.5} color="#333" align="l">1M KOH</Txt>
      <Txt x={275} y={212} size={12} color="#333" align="l">0.1M KOH</Txt>
      <Txt x={497} y={217} size={14} color="#333" align="l">DI Water</Txt>

      {/* G annotations */}
      <Txt x={140} y={374} size={7} color="#222">Pure water current hold</Txt>
      <Txt x={100} y={389.5} size={7} color="#999">Pure water LSV</Txt>
      <Txt x={197.5} y={434} size={7} color="#2c6cb0">Sequential LSVs after</Txt>
      <Txt x={199} y={442} size={7} color="#2c6cb0">&gt; 1.5 L water flush</Txt>
      <Txt x={150} y={450} size={7} color="#2a66a8">500 mL water flush</Txt>
      <Txt x={153} y={486} size={7} color="#333">1 M KOH</Txt>

      {/* H annotations */}
      <Txt x={274} y={441} size={6} weight="bold" family={SERIF}>DI</Txt>
      <Txt x={278} y={450} size={6} weight="bold" family={SERIF}>water</Txt>
      <Txt x={303.7} y={442} size={6} weight="bold" family={SERIF}>0.01 M</Txt>
      <Txt x={303} y={451} size={6} weight="bold" family={SERIF}>KOH</Txt>
      <Txt x={325.5} y={442} size={6} weight="bold" family={SERIF}>0.02 M</Txt>
      <Txt x={325} y={451} size={6} weight="bold" family={SERIF}>KOH</Txt>
      <Txt x={347.2} y={442} size={6} weight="bold" family={SERIF}>0.03 M</Txt>
      <Txt x={345.7} y={451} size={6} weight="bold" family={SERIF}>KOH</Txt>
      <Txt x={389.5} y={442} size={6} weight="bold" family={SERIF}>0.05 M</Txt>
      <Txt x={387.5} y={451} size={6} weight="bold" family={SERIF}>KOH</Txt>
      <Txt x={440} y={442} size={6} weight="bold" family={SERIF}>0.3 M</Txt>
      <Txt x={440} y={451} size={6} weight="bold" family={SERIF}>KOH</Txt>
    </div>
  );
}
